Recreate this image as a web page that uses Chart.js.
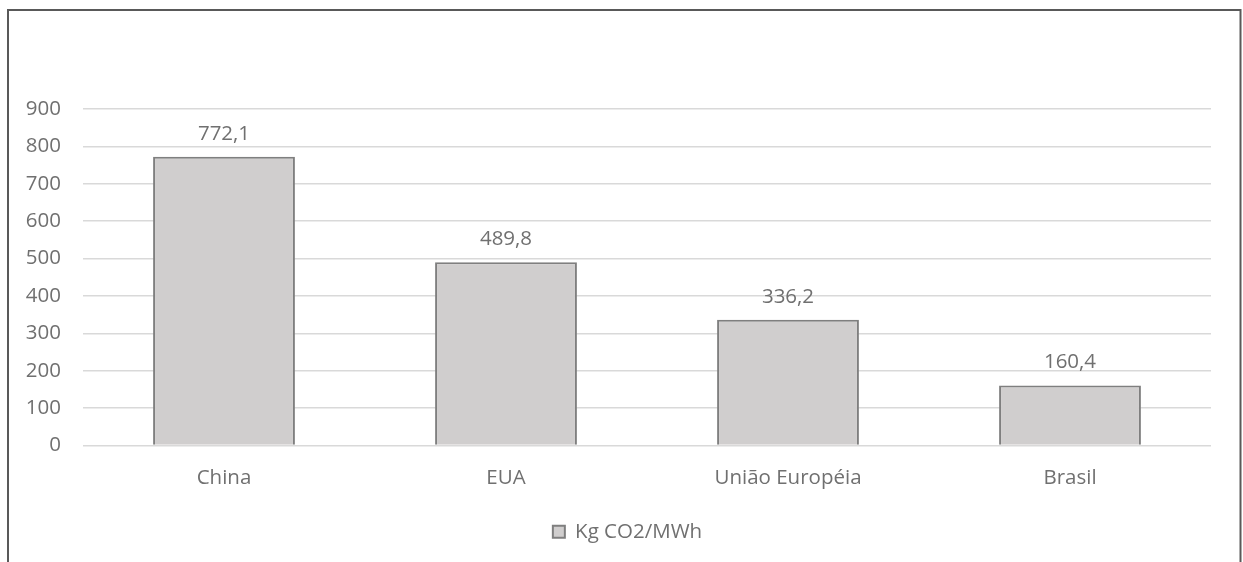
<!DOCTYPE html>
<html>
<head>
<meta charset="utf-8">
<script src="https://cdn.jsdelivr.net/npm/chart.js@4.4.1/dist/chart.umd.min.js"></script>
<style>
  html, body { margin: 0; padding: 0; background: #ffffff; }
  #wrap { width: 1243px; height: 562px; }
</style>
</head>
<body>
<div id="wrap"><canvas id="chart" width="1243" height="562"></canvas></div>
<script>
// Emissions intensity of electricity generation by region
const categories = ['China', 'EUA', 'União Européia', 'Brasil'];
const emissions = [772.1, 489.8, 336.2, 160.4];
const seriesName = 'Kg CO2/MWh';
const yTickValues = [0, 100, 200, 300, 400, 500, 600, 700, 800, 900];

const FONT = '"Open Sans", sans-serif';
const TEXT = '#707070';
const SIZE = 20.5;

// Outer frame of the chart object (bottom edge runs off the canvas)
const framePlugin = {
  id: 'frame',
  afterDraw(chart) {
    const ctx = chart.ctx;
    ctx.save();
    ctx.strokeStyle = '#595959';
    ctx.lineWidth = 2;
    ctx.strokeRect(8, 10, 1232.5, 620);
    ctx.restore();
  }
};

// Centre the legend on the whole frame rather than the padded area
const legendShift = {
  id: 'legendShift',
  afterLayout(chart) {
    if (chart.legend) {
      chart.legend.left += 12;
      chart.legend.right += 12;
    }
  }
};

// Value labels above each bar, decimal comma
const valueLabels = {
  id: 'valueLabels',
  afterDatasetsDraw(chart) {
    const ctx = chart.ctx;
    const meta = chart.getDatasetMeta(0);
    ctx.save();
    ctx.font = SIZE + 'px ' + FONT;
    ctx.fillStyle = TEXT;
    ctx.textAlign = 'center';
    ctx.textBaseline = 'middle';
    meta.data.forEach((bar, i) => {
      const v = chart.data.datasets[0].data[i];
      ctx.fillText(v.toFixed(1).replace('.', ','), bar.x, bar.y - 23);
    });
    ctx.restore();
  }
};

new Chart(document.getElementById('chart'), {
  type: 'bar',
  data: {
    labels: categories,
    datasets: [{
      label: seriesName,
      data: emissions,
      backgroundColor: '#d0cece',
      borderColor: '#7f7f7f',
      borderWidth: 2,
      categoryPercentage: 1,
      barPercentage: 0.503
    }]
  },
  options: {
    responsive: false,
    animation: false,
    devicePixelRatio: 1,
    layout: { padding: { left: 20, right: 32, top: 109, bottom: 10 } },
    scales: {
      x: {
        grid: { display: false, drawTicks: false },
        border: { display: false },
        ticks: { color: TEXT, font: { family: FONT, size: SIZE }, padding: 20, maxRotation: 0 },
        afterFit(scale) { scale.height = 60; }
      },
      y: {
        min: 0,
        max: 900,
        afterBuildTicks(scale) { scale.ticks = yTickValues.map(v => ({ value: v })); },
        grid: { color: '#d9d9d9', lineWidth: 1.5, drawTicks: false },
        border: { display: false },
        ticks: { color: TEXT, font: { family: FONT, size: SIZE }, padding: 22 },
        afterFit(scale) { scale.width = 63; }
      }
    },
    plugins: {
      legend: {
        position: 'bottom',
        labels: {
          color: TEXT,
          font: { family: FONT, size: SIZE },
          boxWidth: 12,
          boxHeight: 12,
          padding: 16
        }
      },
      tooltip: { enabled: false }
    }
  },
  plugins: [framePlugin, legendShift, valueLabels]
});
</script>
</body>
</html>
